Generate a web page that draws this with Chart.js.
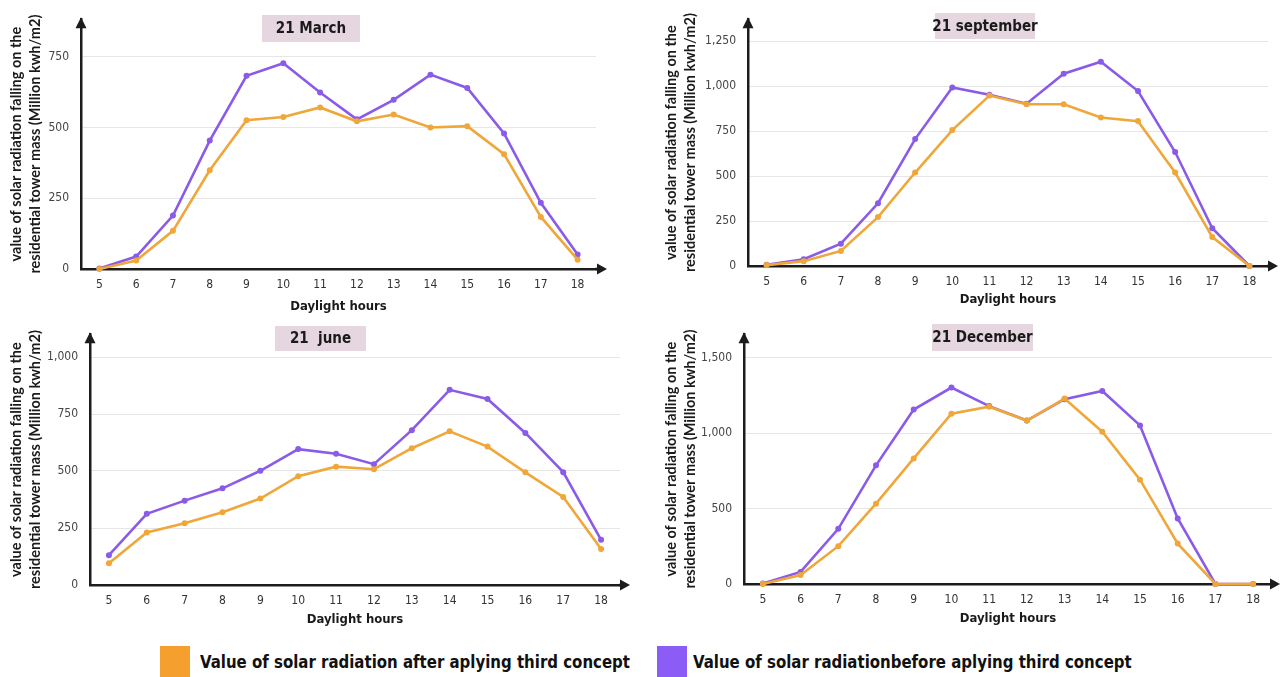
<!DOCTYPE html>
<html><head><meta charset="utf-8">
<script src="https://cdn.jsdelivr.net/npm/chart.js@4.4.1/dist/chart.umd.min.js"></script>
<style>
html,body{margin:0;padding:0;background:#fff;}
body{width:1280px;height:677px;position:relative;overflow:hidden;}
.panel{position:absolute;}
.sw{position:absolute;width:30px;height:31px;}
.lt{position:absolute;font-family:'Liberation Sans Narrow','DejaVu Sans Condensed','Roboto Condensed',Roboto,sans-serif;font-weight:bold;font-size:18px;color:#111;white-space:nowrap;line-height:20px;transform:scaleX(0.925);transform-origin:left center;}
</style></head><body>
<div class="panel" style="left:0;top:0;"><canvas id="c1" width="640" height="320"></canvas></div>
<div class="panel" style="left:640px;top:0;"><canvas id="c2" width="640" height="315"></canvas></div>
<div class="panel" style="left:0;top:315px;"><canvas id="c3" width="640" height="325"></canvas></div>
<div class="panel" style="left:640px;top:315px;"><canvas id="c4" width="640" height="325"></canvas></div>
<div class="sw" style="left:160px;top:646px;background:#F59F2E;"></div>
<div class="lt" style="left:200px;top:652px;">Value of solar radiation after aplying third concept</div>
<div class="sw" style="left:657px;top:646px;background:#8B5CF6;"></div>
<div class="lt" style="left:693px;top:652px;">Value of solar radiationbefore aplying third concept</div>
<script>
const hours = ['5','6','7','8','9','10','11','12','13','14','15','16','17','18'];
const seriesNames = ['Value of solar radiation after aplying third concept','Value of solar radiationbefore aplying third concept'];
const panelTitles = ['21 March','21 september','21  june','21 December'];

const marchAfter  = [0, 30, 135, 349, 526, 537, 571, 522, 546, 500, 505, 406, 184, 33];
const marchBefore = [2, 44, 189, 454, 683, 727, 624, 529, 598, 687, 640, 479, 234, 51];
const septAfter   = [5, 27, 84, 272, 520, 756, 948, 900, 900, 826, 806, 520, 161, 0];
const septBefore  = [7, 38, 124, 349, 706, 993, 953, 903, 1070, 1136, 973, 634, 210, 0];
const juneAfter   = [95, 230, 271, 319, 379, 477, 519, 508, 600, 674, 607, 494, 386, 158];
const juneBefore  = [131, 312, 370, 424, 501, 596, 576, 530, 679, 856, 816, 667, 495, 198];
const decAfter    = [0, 59, 251, 533, 833, 1130, 1176, 1084, 1230, 1010, 692, 268, 0, 0];
const decBefore   = [4, 80, 366, 787, 1157, 1303, 1180, 1084, 1226, 1280, 1052, 435, 0, 0];

const marchTicks = [0, 250, 500, 750];
const septTicks  = [0, 250, 500, 750, 1000, 1250];
const juneTicks  = [0, 250, 500, 750, 1000];
const decTicks   = [0, 500, 1000, 1500];

const yTitle = ['value of solar radiation falling on the','residential tower mass (Million kwh/m2)'];
const xTitle = 'Daylight hours';

const ORANGE = '#F0A73A';
const PURPLE = '#8A5BE8';
const AXIS = '#1c1c1c';
const COND = "'Liberation Sans Narrow','DejaVu Sans Condensed','Roboto Condensed',Roboto,sans-serif";
const ROUND = "Lato,'Open Sans',sans-serif";

const decor = {
  id: 'decor',
  beforeDatasetsDraw(chart, args, o) {
    const ctx = chart.ctx;
    const b = o.box;
    ctx.save();
    ctx.fillStyle = '#e6d6df';
    ctx.fillRect(b.x, b.y, b.w, b.h);
    ctx.fillStyle = '#1a1a1a';
    ctx.font = 'bold 15px ' + COND;
    ctx.textAlign = 'center';
    ctx.textBaseline = 'middle';
    ctx.fillText(o.text, b.x + b.w / 2, b.y + b.h / 2 + 1);
    ctx.restore();
  },
  afterDraw(chart, args, o) {
    const {ctx, chartArea: {left, right, top, bottom}} = chart;
    ctx.save();
    ctx.strokeStyle = AXIS; ctx.fillStyle = AXIS; ctx.lineWidth = 2.5;
    ctx.beginPath(); ctx.moveTo(right - 1, bottom); ctx.lineTo(right + o.ext, bottom); ctx.stroke();
    const tx = right + o.ext + 3;
    ctx.beginPath(); ctx.moveTo(tx, bottom); ctx.lineTo(tx - 10, bottom - 5.5); ctx.lineTo(tx - 10, bottom + 5.5); ctx.closePath(); ctx.fill();
    ctx.beginPath(); ctx.moveTo(left, top - 2); ctx.lineTo(left - 5.5, top + 9); ctx.lineTo(left + 5.5, top + 9); ctx.closePath(); ctx.fill();
    ctx.restore();
  }
};

function makeChart(id, title, after, before, tickVals, g) {
  new Chart(document.getElementById(id), {
    type: 'line',
    data: {
      labels: hours,
      datasets: [
        {label: seriesNames[1], data: before, borderColor: PURPLE, backgroundColor: PURPLE, borderWidth: 2.6, pointRadius: 3, pointBorderWidth: 0, tension: 0, clip: false, order: 2},
        {label: seriesNames[0], data: after, borderColor: ORANGE, backgroundColor: ORANGE, borderWidth: 2.6, pointRadius: 3, pointBorderWidth: 0, tension: 0, clip: false, order: 1}
      ]
    },
    options: {
      responsive: false, animation: false,
      layout: {padding: {left: 0, top: g.top, right: g.right, bottom: 0}},
      plugins: {
        legend: {display: false}, tooltip: {enabled: false},
        decor: {box: g.box, text: title, ext: g.ext}
      },
      scales: {
        x: {
          offset: true,
          grid: {color: 'transparent', drawTicks: false},
          border: {display: true, color: AXIS, width: 2.5},
          ticks: {color: '#333', padding: 9, font: {family: COND, size: 12}},
          title: {display: true, text: xTitle, color: '#1a1a1a', font: {family: COND, size: 13, weight: 'bold'}, padding: {top: 0, bottom: g.xtp}},
          afterFit: s => { s.width; s.height = g.xh; }
        },
        y: {
          min: 0, max: g.max,
          grid: {color: c => c.tick && c.tick.value === 0 ? 'transparent' : '#e6e6e6', lineWidth: 1, drawTicks: false},
          border: {display: true, color: AXIS, width: 2.5},
          ticks: {color: '#444', padding: 12, font: {family: COND, size: 12}},
          afterBuildTicks: s => { s.ticks = tickVals.map(v => ({value: v})); },
          title: {display: true, text: yTitle, color: '#1a1a1a', font: {family: ROUND, size: 14.5, weight: 'bold', lineHeight: '19px'}, padding: {top: g.ytp, bottom: 0}},
          afterFit: s => { s.width = g.yw; }
        }
      }
    },
    plugins: [decor]
  });
}

makeChart('c1', panelTitles[0], marchAfter, marchBefore, marchTicks, {yw: 81, top: 10, right: 44, xh: 51, max: 883, ext: 8, xtp: 6, ytp: 7, box: {x: 262, y: 15, w: 98, h: 27}});
makeChart('c2', panelTitles[1], septAfter, septBefore, septTicks, {yw: 108, top: 10, right: 12, xh: 49, max: 1373, ext: 7, xtp: 8, ytp: 22, box: {x: 295, y: 13, w: 100, h: 26}});
makeChart('c3', panelTitles[2], juneAfter, juneBefore, juneTicks, {yw: 90, top: 7, right: 20, xh: 55, max: 1100, ext: 7, xtp: 13, ytp: 7, box: {x: 275, y: 11, w: 91, h: 25}});
makeChart('c4', panelTitles[3], decAfter, decBefore, decTicks, {yw: 104, top: 5, right: 8, xh: 56, max: 1657, ext: 5, xtp: 14, ytp: 22, box: {x: 292, y: 9, w: 101, h: 27}});
</script>
</body></html>
